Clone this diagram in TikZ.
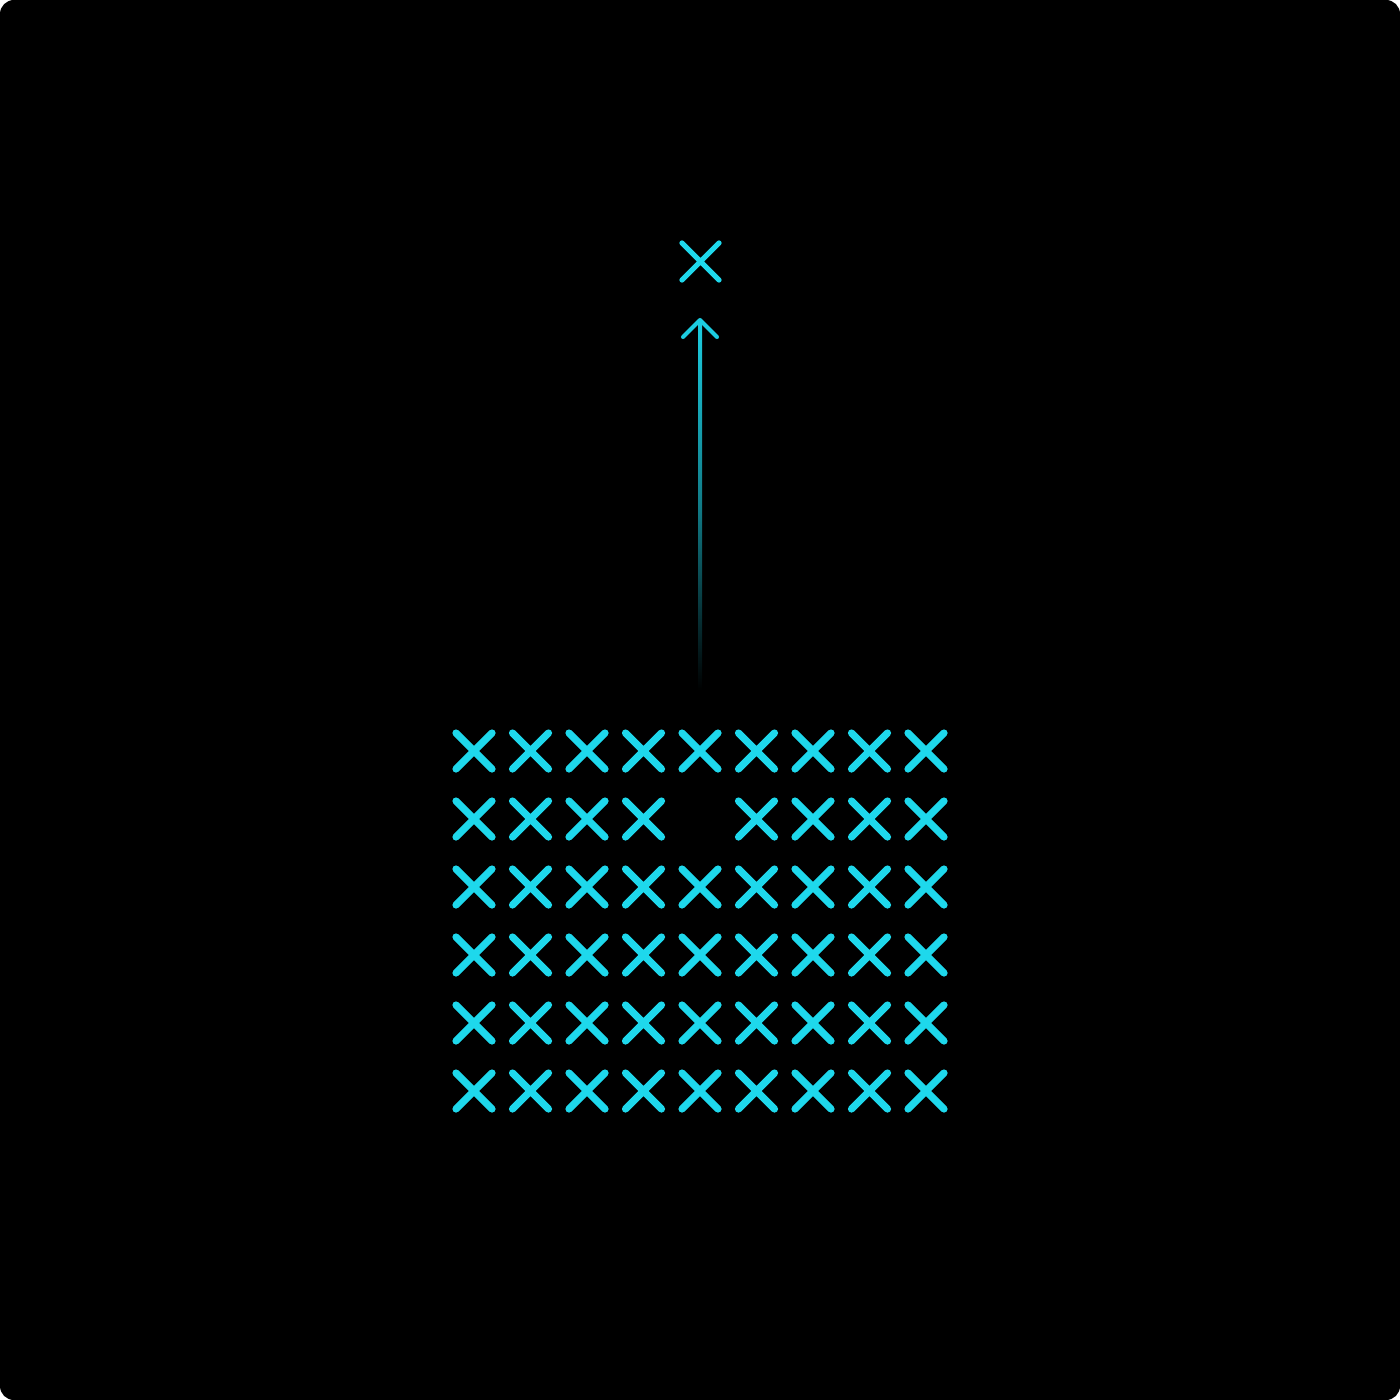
\documentclass[tikz,border=0pt]{standalone}
\definecolor{cy}{RGB}{30,216,236}
\definecolor{cyarrow}{RGB}{28,205,225}
\begin{document}
\begin{tikzpicture}[x=0.01cm,y=-0.01cm,
  spot/.style={inner sep=0pt, minimum size=0pt},
  xline/.style={draw=cy, line width=2.05pt, line cap=round},
  xlinesmall/.style={draw=cy, line width=1.5pt, line cap=round}]
\useasboundingbox (0,0) rectangle (1400,1400);
\fill[white] (0,0) rectangle (1400,1400);
\fill[black, rounded corners=0.14cm] (0,0) rectangle (1400,1400);
% grid of crosses
\foreach \r [count=\ri] in {751,819,887,955,1023,1091} {
  \foreach \c [count=\ci] in {474,530.5,587,643.5,700,756.5,813,869.5,926} {
    \ifnum\ri=2 \ifnum\ci=5 \else
      \node[spot] (g-\ri-\ci) at (\c,\r) {};
      \draw[xline] ([shift={(-18,-18)}]g-\ri-\ci.center) -- ([shift={(18,18)}]g-\ri-\ci.center)
                   ([shift={(-18,18)}]g-\ri-\ci.center) -- ([shift={(18,-18)}]g-\ri-\ci.center);
    \fi\else
      \node[spot] (g-\ri-\ci) at (\c,\r) {};
      \draw[xline] ([shift={(-18,-18)}]g-\ri-\ci.center) -- ([shift={(18,18)}]g-\ri-\ci.center)
                   ([shift={(-18,18)}]g-\ri-\ci.center) -- ([shift={(18,-18)}]g-\ri-\ci.center);
    \fi
  }
}
% target cross
\node[spot] (top) at (700.5,261.5) {};
\draw[xlinesmall] ([shift={(-18.5,-18.5)}]top.center) -- ([shift={(18.5,18.5)}]top.center)
                  ([shift={(-18.5,18.5)}]top.center) -- ([shift={(18.5,-18.5)}]top.center);
% arrow shaft with fade
\coordinate (tail) at (700.5,690);
\coordinate (tip) at (700,320);
\shade[top color=cyarrow, bottom color=black, middle color=cyarrow!60!black] (698.2,322) rectangle (702,690);
\draw[cyarrow, line width=1.15pt, line cap=round, line join=round] ([shift={(-17,17)}]tip) -- (tip) -- ([shift={(17,17)}]tip);
\end{tikzpicture}
\end{document}
